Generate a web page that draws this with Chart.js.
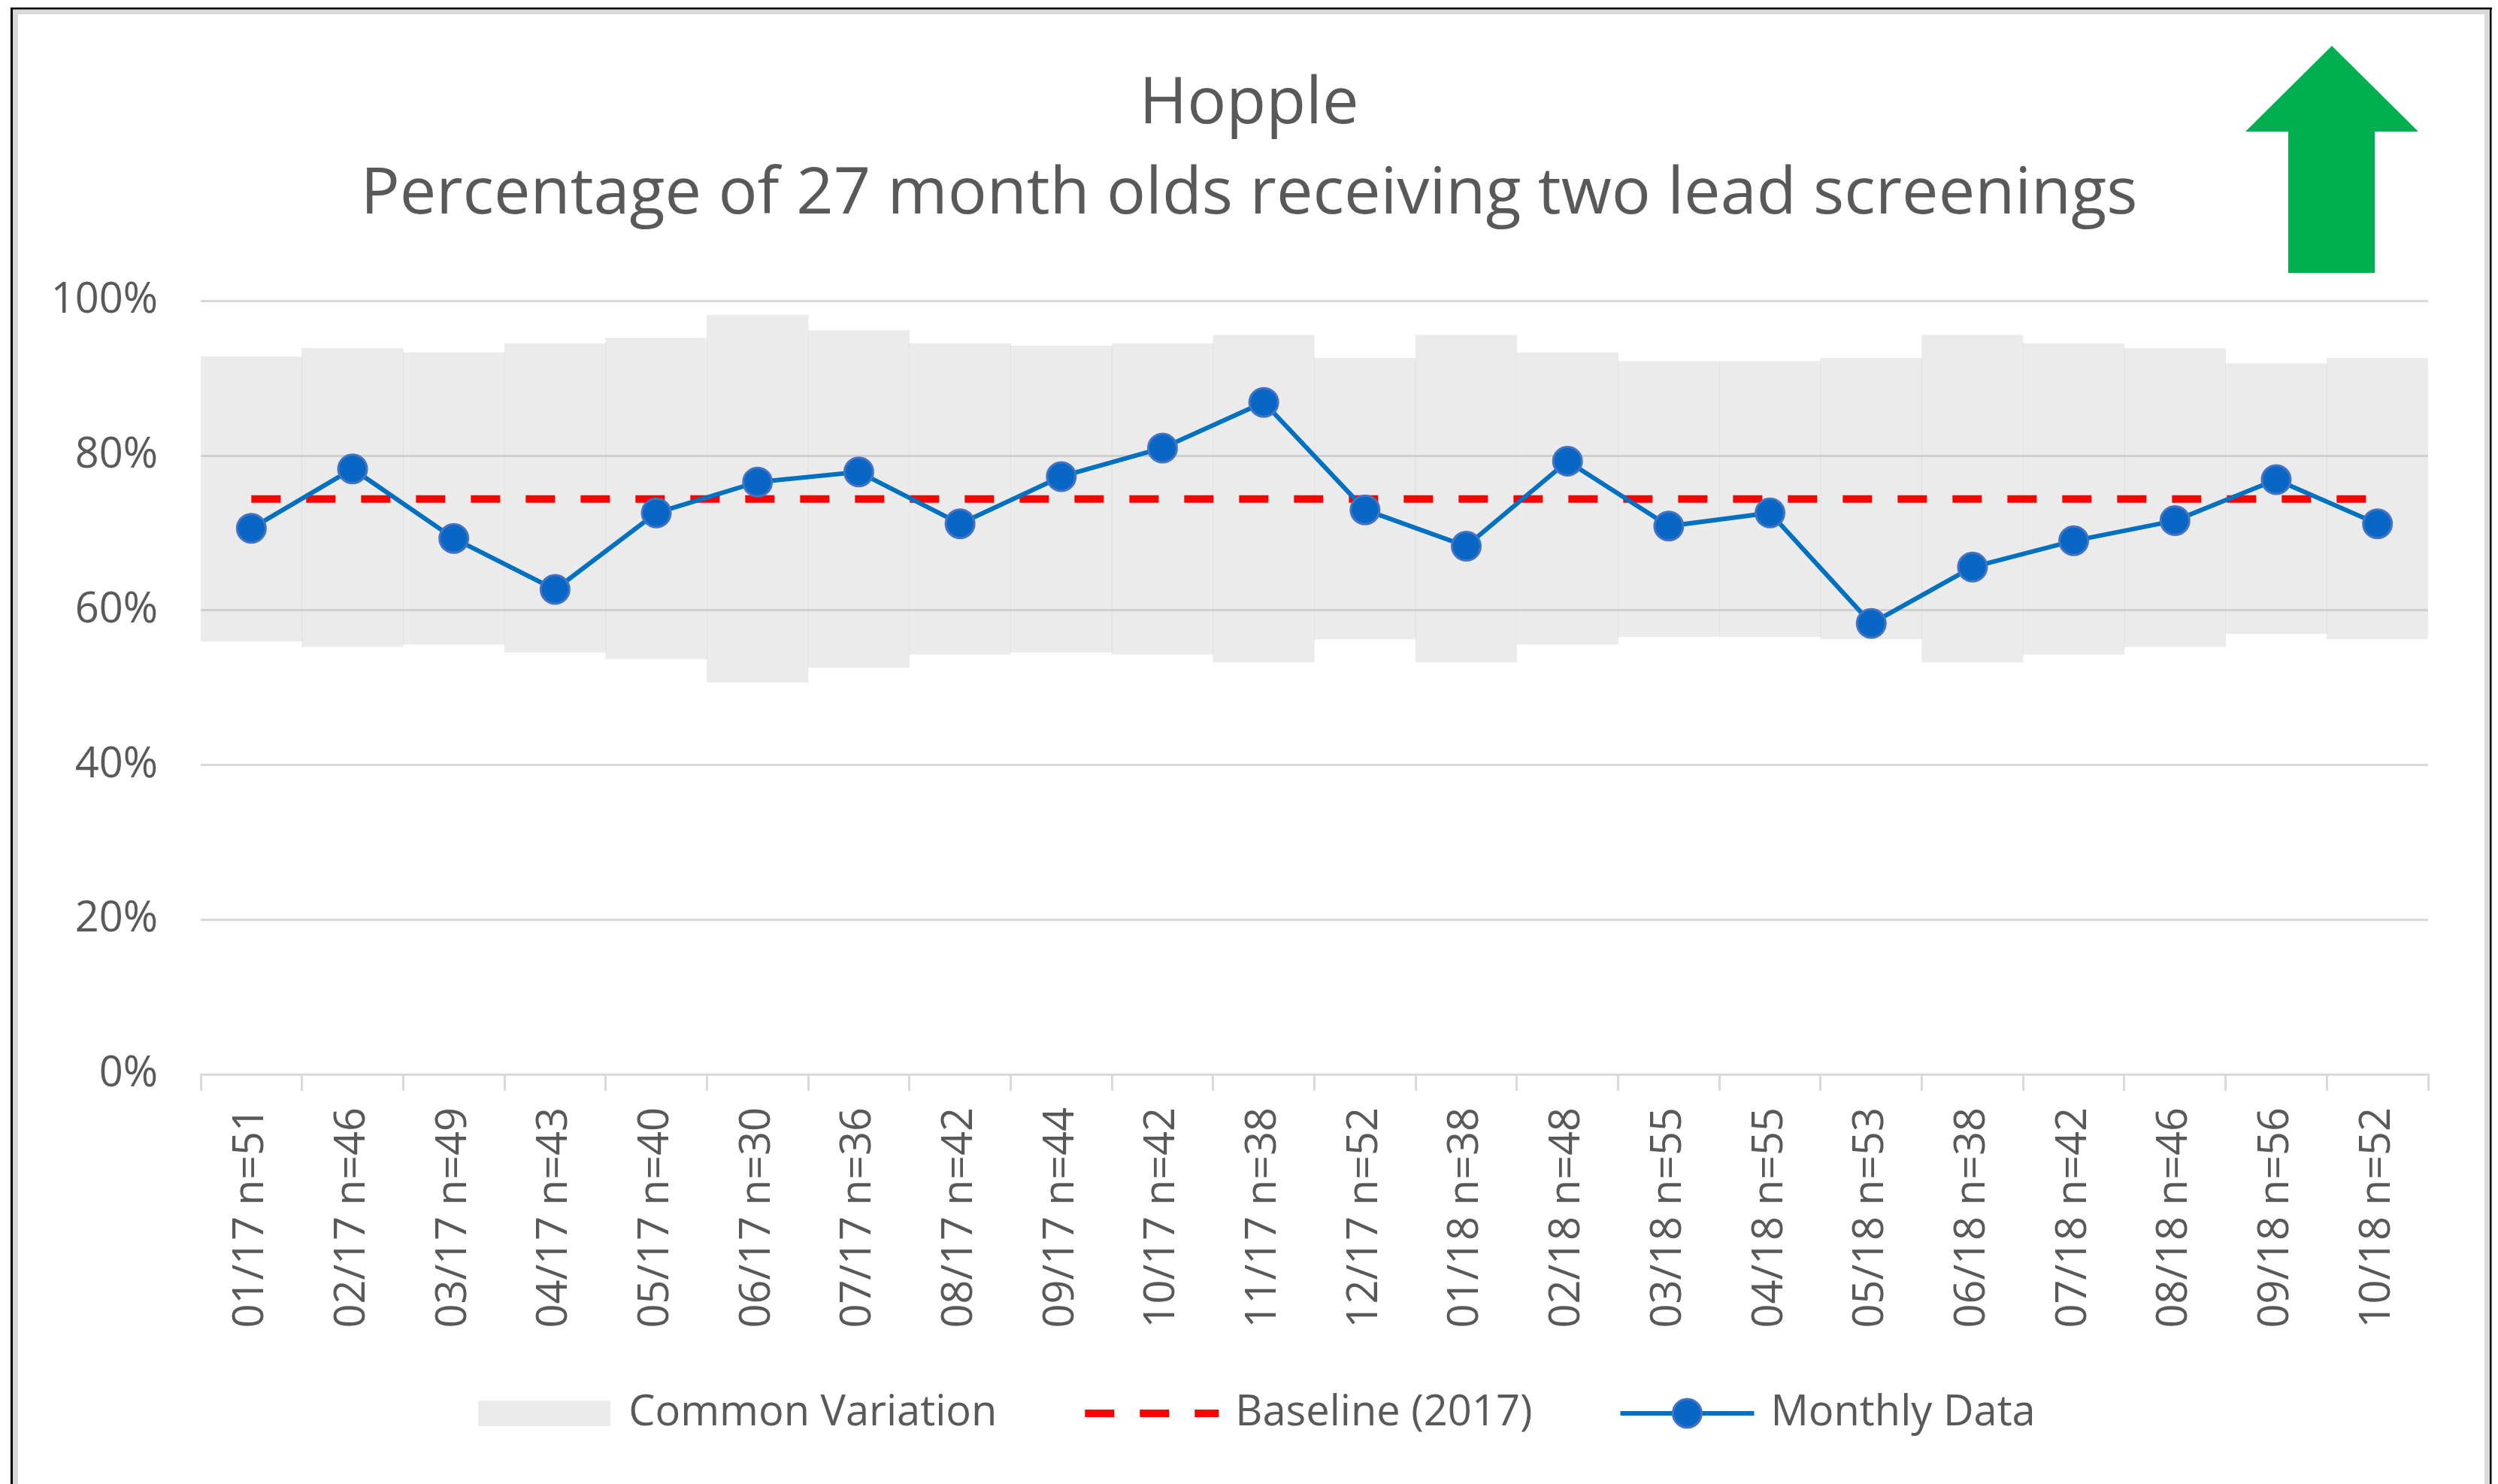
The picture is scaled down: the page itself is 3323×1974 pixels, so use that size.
<!DOCTYPE html>
<html><head><meta charset="utf-8">
<script src="https://cdn.jsdelivr.net/npm/chart.js@4.4.1/dist/chart.umd.min.js"></script>
<style>
html,body{margin:0;padding:0;background:#fff;overflow:hidden}
#wrap{position:relative;width:3323px;height:1974px}
canvas{display:block}
</style>
</head><body>
<div id="wrap"><canvas id="c" width="3323" height="1974"></canvas></div>
<script>
// ---- data ----
const categories = ["01/17 n=51","02/17 n=46","03/17 n=49","04/17 n=43","05/17 n=40","06/17 n=30","07/17 n=36","08/17 n=42","09/17 n=44","10/17 n=42","11/17 n=38","12/17 n=52","01/18 n=38","02/18 n=48","03/18 n=55","04/18 n=55","05/18 n=53","06/18 n=38","07/18 n=42","08/18 n=46","09/18 n=56","10/18 n=52"];
const monthlyData = [70.6,78.3,69.3,62.7,72.6,76.6,77.9,71.2,77.3,81.0,86.9,73.0,68.3,79.3,70.9,72.6,58.3,65.6,69.0,71.6,76.9,71.2];
const baselineData = [74.4,74.4,74.4,74.4,74.4,74.4,74.4,74.4,74.4,74.4,74.4,74.4,74.4,74.4,74.4,74.4,74.4,74.4,74.4,74.4,74.4,74.4];
const upperLimit = [92.8,93.9,93.3,94.5,95.2,98.2,96.2,94.5,94.2,94.5,95.6,92.6,95.6,93.3,92.2,92.2,92.6,95.6,94.5,93.9,91.9,92.6];
const lowerLimit = [56.0,55.3,55.6,54.6,53.7,50.7,52.6,54.3,54.6,54.3,53.3,56.3,53.3,55.6,56.6,56.6,56.3,53.3,54.3,55.3,57.0,56.3];
const yTickValues = [0,20,40,60,80,100];
const titleLines = ["Hopple","Percentage of 27 month olds receiving two lead screenings"];
const seriesNames = ["Common Variation","Baseline (2017)","Monthly Data"];

// ---- style ----
const FONT = "'Open Sans', 'Noto Sans', sans-serif";
const TXT = '#595959';
Chart.defaults.font.family = FONT;
Chart.defaults.color = TXT;

const bandData = upperLimit.map((u, i) => [lowerLimit[i], u]);

const decor = {
  id: 'decor',
  beforeDraw(chart) {
    const c = chart.ctx;
    c.save(); c.fillStyle = '#fff'; c.fillRect(0, 0, chart.width, chart.height); c.restore();
  },
  afterDraw(chart) {
    const c = chart.ctx;
    c.save();
    // frame
    c.fillStyle = '#d9d9d9';
    c.fillRect(17, 12, 7, 1962);
    c.fillRect(17, 12, 3295, 7);
    c.fillRect(3305, 12, 7, 1962);
    c.fillStyle = '#000';
    c.fillRect(14, 10, 3, 1964);
    c.fillRect(14, 10, 3301, 2.5);
    c.fillRect(3312, 10, 2.5, 1964);
    // green arrow
    c.fillStyle = '#00B050';
    c.beginPath();
    c.moveTo(3102, 61);
    c.lineTo(3217, 175);
    c.lineTo(3159, 175);
    c.lineTo(3159, 363);
    c.lineTo(3044, 363);
    c.lineTo(3044, 175);
    c.lineTo(2987, 175);
    c.closePath();
    c.fill();
    // legend
    const ds = chart.data.datasets;
    const items = [ds[2], ds[1], ds[0]];
    const boxW = 178, gap = 22, itemGap = 117, y = 1880;
    c.font = '56px ' + FONT;
    c.textBaseline = 'middle';
    const widths = items.map(d => boxW + gap + c.measureText(d.label).width);
    const total = widths.reduce((a, b) => a + b, 0) + itemGap * (items.length - 1);
    let x = 1672 - total / 2;
    items.forEach((d, i) => {
      if (d.type === 'bar') {
        c.fillStyle = d.backgroundColor;
        c.fillRect(x, y - 17, boxW - 2, 34);
      } else {
        c.save();
        c.strokeStyle = d.borderColor;
        c.lineWidth = d.borderWidth;
        c.setLineDash(d.borderDash || []);
        c.beginPath(); c.moveTo(x, y); c.lineTo(x + boxW, y); c.stroke();
        c.restore();
        if (d.pointRadius > 0) {
          c.beginPath();
          c.arc(x + boxW / 2, y, d.pointRadius, 0, Math.PI * 2);
          c.fillStyle = d.pointBackgroundColor; c.fill();
          c.lineWidth = d.pointBorderWidth; c.strokeStyle = d.pointBorderColor; c.stroke();
        }
      }
      c.fillStyle = TXT;
      c.textAlign = 'left';
      c.fillText(d.label, x + boxW + gap, y);
      x += widths[i] + itemGap;
    });
    c.restore();
  }
};

new Chart(document.getElementById('c'), {
  type: 'bar',
  data: {
    labels: categories,
    datasets: [
      { type: 'line', label: seriesNames[2], data: monthlyData, borderColor: '#0070C0', borderWidth: 6,
        pointRadius: 19, pointBackgroundColor: '#0866C4', pointBorderColor: '#4472C4', pointBorderWidth: 3,
        tension: 0, order: 1 },
      { type: 'line', label: seriesNames[1], data: baselineData, borderColor: '#FF0000', borderWidth: 10,
        borderDash: [39, 34], pointRadius: 0, order: 2 },
      { type: 'bar', label: seriesNames[0], data: bandData, backgroundColor: 'rgba(180,180,180,0.27)',
        barPercentage: 1, categoryPercentage: 1, borderWidth: 0, order: 3 }
    ]
  },
  options: {
    responsive: false,
    devicePixelRatio: 1,
    animation: false,
    layout: { padding: { top: 0, left: 0, right: 0, bottom: 200 } },
    plugins: {
      legend: { display: false },
      tooltip: { enabled: false },
      title: { display: true, text: titleLines, color: TXT,
        font: { size: 86.5, weight: 'normal', lineHeight: 1.39 },
        padding: { top: 79, bottom: 81 } }
    },
    scales: {
      x: {
        offset: true,
        grid: { display: true, offset: true, drawOnChartArea: false, drawTicks: true, tickLength: 22, color: '#d9d9d9', lineWidth: 3 },
        border: { display: true, color: '#d9d9d9', width: 3 },
        ticks: { minRotation: 90, maxRotation: 90, padding: 22, autoSkip: false, color: TXT, font: { size: 56 } },
        afterFit(s) { s.height = 345; }
      },
      y: {
        min: 0, max: 100,
        afterBuildTicks(s) { s.ticks = yTickValues.map(v => ({ value: v })); },
        ticks: { callback: v => v + '%', padding: 57, color: TXT, font: { size: 56 } },
        grid: { color: '#d9d9d9', lineWidth: 3, drawTicks: false },
        border: { display: false },
        afterFit(s) { s.width = 267; }
      },
      yRight: {
        position: 'right',
        min: 0, max: 100,
        grid: { display: false, drawTicks: false },
        border: { display: false },
        ticks: { display: false },
        afterFit(s) { s.width = 93; }
      }
    }
  },
  plugins: [decor]
});
</script>
</body></html>
